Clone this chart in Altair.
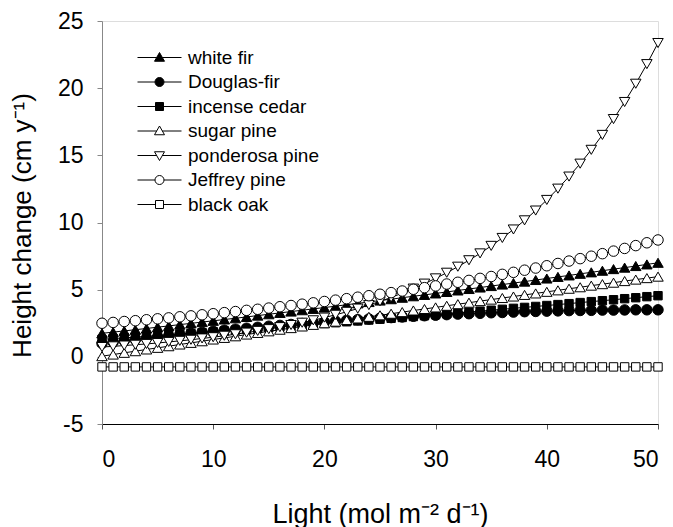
import altair as alt
import pandas as pd

light = list(range(0, 51))

species = ["white fir", "Douglas-fir", "incense cedar", "sugar pine",
           "ponderosa pine", "Jeffrey pine", "black oak"]

white_fir = [1.75, 1.84, 1.93, 2.02, 2.11, 2.21, 2.30, 2.40, 2.49, 2.59,
             2.68, 2.78, 2.87, 2.97, 3.07, 3.17, 3.27, 3.37, 3.47, 3.57,
             3.67, 3.77, 3.88, 3.98, 4.08, 4.19, 4.29, 4.40, 4.51, 4.61,
             4.72, 4.83, 4.94, 5.05, 5.16, 5.27, 5.38, 5.49, 5.60, 5.72,
             5.83, 5.95, 6.06, 6.18, 6.29, 6.41, 6.53, 6.64, 6.76, 6.88, 7.00]

douglas_fir = [1.00, 1.10, 1.20, 1.29, 1.38, 1.48, 1.56, 1.65, 1.74, 1.82,
               1.90, 1.98, 2.06, 2.13, 2.20, 2.28, 2.34, 2.41, 2.48, 2.54,
               2.60, 2.66, 2.72, 2.77, 2.82, 2.88, 2.92, 2.97, 3.02, 3.06,
               3.10, 3.14, 3.18, 3.21, 3.24, 3.28, 3.30, 3.33, 3.36, 3.38,
               3.40, 3.42, 3.44, 3.45, 3.46, 3.48, 3.48, 3.49, 3.50, 3.50, 3.50]

incense_cedar = [1.30, 1.36, 1.41, 1.47, 1.52, 1.58, 1.64, 1.70, 1.75, 1.81,
                 1.87, 1.93, 1.99, 2.05, 2.11, 2.17, 2.23, 2.29, 2.35, 2.42,
                 2.48, 2.54, 2.61, 2.67, 2.74, 2.80, 2.87, 2.93, 3.00, 3.06,
                 3.13, 3.20, 3.27, 3.33, 3.40, 3.47, 3.54, 3.61, 3.68, 3.75,
                 3.82, 3.89, 3.96, 4.04, 4.11, 4.18, 4.25, 4.33, 4.40, 4.48, 4.55]

sugar_pine = [0.05, 0.17, 0.30, 0.42, 0.55, 0.67, 0.79, 0.92, 1.04, 1.16,
              1.29, 1.41, 1.53, 1.66, 1.78, 1.90, 2.02, 2.14, 2.26, 2.38,
              2.50, 2.62, 2.74, 2.86, 2.98, 3.09, 3.21, 3.33, 3.45, 3.56,
              3.68, 3.80, 3.92, 4.03, 4.15, 4.26, 4.38, 4.49, 4.61, 4.72,
              4.84, 4.95, 5.07, 5.18, 5.30, 5.41, 5.52, 5.64, 5.75, 5.86, 5.97]

ponderosa_pine = [0.73, 0.78, 0.84, 0.90, 0.96, 1.03, 1.11, 1.19, 1.27, 1.37,
                  1.46, 1.57, 1.68, 1.80, 1.93, 2.06, 2.21, 2.37, 2.54, 2.72,
                  2.92, 3.13, 3.35, 3.59, 3.85, 4.13, 4.42, 4.74, 5.08, 5.45,
                  5.84, 6.26, 6.71, 7.19, 7.70, 8.26, 8.85, 9.48, 10.16, 10.89,
                  11.68, 12.52, 13.42, 14.38, 15.41, 16.52, 17.70, 18.97, 20.33, 21.79, 23.36]

jeffrey_pine = [2.50, 2.56, 2.63, 2.69, 2.76, 2.83, 2.90, 2.98, 3.05, 3.13,
                3.21, 3.29, 3.37, 3.46, 3.54, 3.63, 3.73, 3.82, 3.92, 4.02,
                4.12, 4.22, 4.33, 4.44, 4.55, 4.66, 4.78, 4.90, 5.03, 5.15,
                5.28, 5.42, 5.55, 5.69, 5.84, 5.98, 6.14, 6.29, 6.45, 6.61,
                6.78, 6.95, 7.13, 7.31, 7.49, 7.68, 7.87, 8.07, 8.28, 8.49, 8.70]

black_oak = [-0.75] * 51

series = [white_fir, douglas_fir, incense_cedar, sugar_pine,
          ponderosa_pine, jeffrey_pine, black_oak]

rows = []
for name, vals in zip(species, series):
    for xv, yv in zip(light, vals):
        rows.append({"species": name, "light": xv, "height": yv})
df = pd.DataFrame(rows)

fills = ["black", "black", "black", "white", "white", "white", "white"]
strokes = ["black"] * 7

# plot marker shapes
tri_up = "triangle-up"
tri_down = "triangle-down"
circ = "circle"
sq = "M-0.8,-0.8H0.8V0.8H-0.8Z"
plot_shapes = [tri_up, circ, sq, tri_up, tri_down, circ, sq]

# legend symbol shapes (marker with line through it)
lg_tri_up = "M-4.4,0H-0.55M0.55,0H4.4M0,-1L1,0.75L-1,0.75Z"
lg_tri_down = "M-4.4,0H-0.55M0.55,0H4.4M0,1L1,-0.75L-1,-0.75Z"
lg_circ = "M-4.4,0H-0.9M0.9,0H4.4M0.9,0A0.9,0.9 0 1,1 -0.9,0A0.9,0.9 0 1,1 0.9,0Z"
lg_sq = "M-4.4,0H-0.8M0.8,0H4.4M-0.8,-0.8H0.8V0.8H-0.8Z"
legend_shapes = [lg_tri_up, lg_circ, lg_sq, lg_tri_up, lg_tri_down, lg_circ, lg_sq]

FONT = "Liberation Sans"

x_enc = alt.X("light:Q", scale=alt.Scale(domain=[0, 50], nice=False),
              axis=alt.Axis(values=[0, 10, 20, 30, 40, 50], title="Light (mol m\u207b\u00b2 d\u207b\u00b9)",
                            grid=False, domainColor="black", tickColor="#555555",
                            tickSize=5, labelFontSize=23, labelPadding=19,
                            labelFont=FONT, labelColor="black", titleFont=FONT,
                            titleFontSize=27, titleFontWeight="normal", titleColor="black",
                            titleX=278, titleY=98, titleBaseline="alphabetic",
                            titleAnchor="middle", titleAlign="center"))
y_enc = alt.Y("height:Q", scale=alt.Scale(domain=[-5, 25], nice=False, zero=False),
              axis=alt.Axis(values=[-5, 0, 5, 10, 15, 20, 25], title="Height change (cm y\u207b\u00b9)",
                            labelExpr="'' + datum.value",
                            grid=False, domainColor="#888888", tickColor="#888888",
                            tickSize=5, labelFontSize=23, labelPadding=14,
                            labelFont=FONT, labelColor="black", titleFont=FONT,
                            titleFontSize=26, titleFontWeight="normal", titleColor="black",
                            titleX=-72, titleY=204, titleAngle=270,
                            titleBaseline="alphabetic", titleAlign="center"))

base = alt.Chart(df)

lines = base.mark_line(color="black", strokeWidth=1).encode(
    x=x_enc, y=y_enc, detail="species:N",
    order="light:Q"
)

points = base.mark_point(filled=True, stroke="black", strokeWidth=1, size=110, opacity=1).encode(
    x=x_enc, y=y_enc,
    shape=alt.Shape("species:N", scale=alt.Scale(domain=species, range=plot_shapes), legend=None),
    fill=alt.Fill("species:N", scale=alt.Scale(domain=species, range=fills), legend=None),
)

leg = alt.Legend(title=None, orient="none", legendX=48, legendY=27,
                 symbolSize=100, symbolStrokeColor="black", symbolStrokeWidth=1,
                 labelFont=FONT, labelFontSize=19, labelColor="black",
                 labelOffset=19, rowPadding=4.5, padding=0, offset=0)

legend_layer = base.transform_filter("datum.light < 0").mark_point(
    filled=True, strokeWidth=1, size=100, opacity=1).encode(
    x=x_enc, y=y_enc,
    shape=alt.Shape("species:N", scale=alt.Scale(domain=species, range=legend_shapes),
                    legend=leg, sort=species),
    fill=alt.Fill("species:N", scale=alt.Scale(domain=species, range=fills),
                  legend=leg, sort=species),
    stroke=alt.Stroke("species:N", scale=alt.Scale(domain=species, range=strokes),
                      legend=leg, sort=species),
)

chart = alt.layer(lines, points, legend_layer).resolve_scale(
    shape="independent", fill="independent", stroke="independent"
).properties(
    width=556, height=403,
    autosize=alt.AutoSizeParams(type="none"),
    padding={"left": 94, "top": 13, "right": 7, "bottom": 103},
).configure_view(stroke=None).configure(background="white")

chart.save("out.html", embed_options={"renderer": "svg", "actions": False})
